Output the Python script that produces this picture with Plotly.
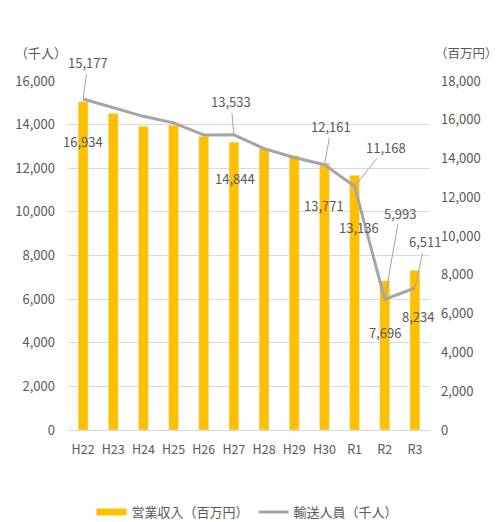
import plotly.graph_objects as go

categories = ["H22", "H23", "H24", "H25", "H26", "H27", "H28", "H29", "H30", "R1", "R2", "R3"]
revenue = [16934, 16330, 15670, 15720, 15150, 14844, 14520, 14140, 13771, 13136, 7696, 8234]  # 百万円
passengers = [15177, 14780, 14380, 14080, 13530, 13533, 12900, 12490, 12161, 11168, 5993, 6511]  # 千人
labeled = ["H22", "H27", "H30", "R1", "R2", "R3"]

revenue_name = "営業収入（百万円）"
passenger_name = "輸送人員（千人）"
left_title = "（千人）"
right_title = "（百万円）"

FONT = "Noto Sans CJK JP"
TXT = "#595959"
BAR = "#FFC000"
LINE = "#A5A5A5"

fig = go.Figure()
fig.add_trace(go.Bar(x=categories, y=revenue, name=revenue_name, marker_color=BAR,
                     yaxis="y", width=0.33, showlegend=False, legendgroup="rev"))
# legend swatch for the bars (wide flat rectangle look)
fig.add_trace(go.Scatter(x=[None], y=[None], name=revenue_name, mode="lines",
                         line=dict(color=BAR, width=7), yaxis="y", legendgroup="rev"))
fig.add_trace(go.Scatter(x=categories, y=passengers, name=passenger_name, mode="lines",
                         line=dict(color=LINE, width=3), yaxis="y2"))

# label styling offsets (pixels)
line_off = {"H22": (5, -36), "H27": (-3, -33), "H30": (7, -38), "R1": (31, -39),
            "R2": (15, -86), "R3": (10, -46)}
bar_off = {"H22": (0, -40), "H27": (1, -36), "H30": (0, -42), "R1": (4, -52),
           "R2": (0, -52), "R3": (3, -46)}

ann = []
for c in labeled:
    i = categories.index(c)
    ax, ay = line_off[c]
    ann.append(dict(x=c, y=passengers[i], xref="x", yref="y2", text=f"{passengers[i]:,}",
                    showarrow=True, ax=ax, ay=ay, arrowhead=0, arrowwidth=1,
                    arrowcolor=LINE, standoff=1, font=dict(size=13, color=TXT, family=FONT)))
    bx, by = bar_off[c]
    ann.append(dict(x=c, y=revenue[i], xref="x", yref="y", text=f"{revenue[i]:,}",
                    showarrow=False, xshift=bx, yshift=by,
                    font=dict(size=13, color=TXT, family=FONT)))

ann.append(dict(x=-0.075, y=1.083, xref="paper", yref="paper", text=left_title, showarrow=False,
                xanchor="center", yanchor="middle", font=dict(size=13, color=TXT, family=FONT)))
ann.append(dict(x=1.102, y=1.083, xref="paper", yref="paper", text=right_title, showarrow=False,
                xanchor="center", yanchor="middle", font=dict(size=12.5, color=TXT, family=FONT)))

fig.update_layout(
    width=500, height=522,
    margin=dict(l=68, r=70, t=81, b=92, autoexpand=False),
    plot_bgcolor="white", paper_bgcolor="white",
    font=dict(family=FONT, size=13, color=TXT),
    xaxis=dict(showgrid=False, showline=True, linecolor="#d9d9d9", ticks="",
               range=[-0.5, len(categories) - 0.5],
               ticklabelstandoff=8, tickfont=dict(size=12.5, color=TXT)),
    yaxis=dict(side="right", range=[0, 18000], dtick=2000, tickformat=",d",
               showgrid=False, zeroline=False, ticklabelstandoff=10,
               tickfont=dict(size=13, color=TXT)),
    yaxis2=dict(side="left", overlaying="y", range=[0, 16000], dtick=2000, tickformat=",d",
                showgrid=True, gridcolor="#d9d9d9", gridwidth=1, zeroline=False,
                ticklabelstandoff=12, tickfont=dict(size=13, color=TXT)),
    legend=dict(orientation="h", x=0.496, y=-0.235, xanchor="center", yanchor="middle",
                font=dict(size=13, color=TXT, family=FONT), itemwidth=30),
    bargap=0.67,
    annotations=ann,
)

fig.write_html("out.html", config={"displayModeBar": False},
               post_script="document.body.style.margin='0px';")
